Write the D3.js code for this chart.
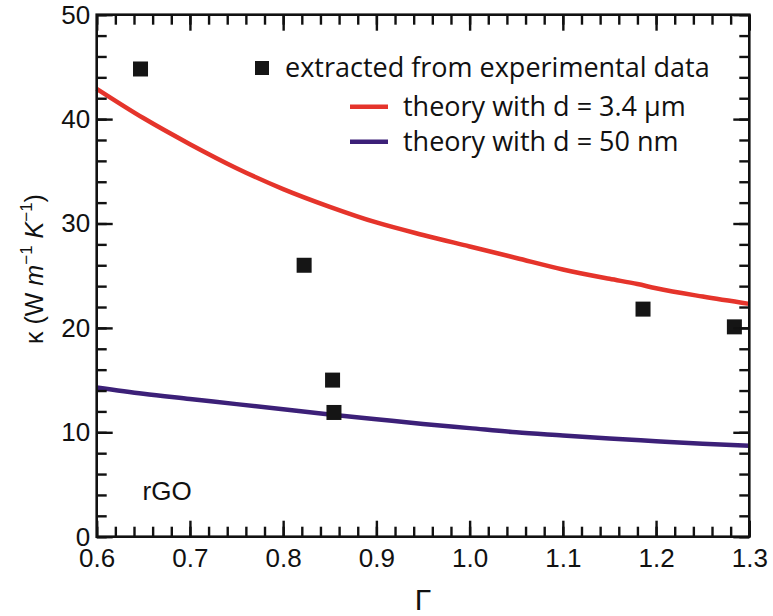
<!DOCTYPE html>
<html>
<head>
<meta charset="utf-8">
<script src="https://cdn.jsdelivr.net/npm/d3@7"></script>
<style>
  html, body { margin: 0; padding: 0; background: #fff; }
  svg { display: block; }
</style>
</head>
<body>
<svg id="chart" width="773" height="616"></svg>
<script>
// ---------- data ----------
const expGamma = [0.647, 0.8225, 0.853, 0.8545, 1.186, 1.284];
const expKappa = [44.8, 26.0, 15.0, 11.9, 21.8, 20.1];

const thickGamma = [0.6, 0.65, 0.70, 0.75, 0.80, 0.85, 0.90, 0.95, 1.0, 1.05, 1.10, 1.15, 1.18, 1.20, 1.25, 1.3];
const thickKappa = [42.9, 40.1, 37.6, 35.3, 33.3, 31.6, 30.1, 28.9, 27.8, 26.7, 25.6, 24.7, 24.2, 23.8, 23.0, 22.3];

const thinGamma = [0.6, 0.65, 0.70, 0.75, 0.80, 0.85, 0.90, 0.95, 1.0, 1.05, 1.10, 1.15, 1.20, 1.25, 1.3];
const thinKappa = [14.3, 13.7, 13.2, 12.7, 12.2, 11.7, 11.25, 10.8, 10.4, 10.0, 9.7, 9.4, 9.15, 8.9, 8.7];

const xTickValues = [0.6, 0.7, 0.8, 0.9, 1.0, 1.1, 1.2, 1.3];
const xTickLabels = ["0.6", "0.7", "0.8", "0.9", "1.0", "1.1", "1.2", "1.3"];
const yTickValues = [0, 10, 20, 30, 40, 50];
const yTickLabels = ["0", "10", "20", "30", "40", "50"];
const xMinorValues = d3.range(0, 36).map(i => 0.6 + i * 0.02);
const yMinorValues = d3.range(0, 26).map(i => i * 2);

const legendLabels = ["extracted from experimental data", "theory with d = 3.4 \u03bcm", "theory with d = 50 nm"];
const colors = { exp: "#151515", thick: "#e5342b", thin: "#3c2078" };

// ---------- layout ----------
const svg = d3.select("#chart");
const L = 96.7, R = 749.3, T = 14.7, B = 536.7;
const x = d3.scaleLinear().domain([0.6, 1.3]).range([L, R]);
const y = d3.scaleLinear().domain([0, 50]).range([B, T]);

const tickFont = "'Liberation Sans', Arial, sans-serif";
const legendFont = "'Open Sans', 'Noto Sans', sans-serif";

// ---------- curves ----------
const line = d3.line().x(d => x(d[0])).y(d => y(d[1])).curve(d3.curveMonotoneX);
svg.append("path")
  .datum(thickGamma.map((g, i) => [g, thickKappa[i]]))
  .attr("d", line).attr("fill", "none").attr("stroke", colors.thick).attr("stroke-width", 4.5);
svg.append("path")
  .datum(thinGamma.map((g, i) => [g, thinKappa[i]]))
  .attr("d", line).attr("fill", "none").attr("stroke", colors.thin).attr("stroke-width", 4.5);

// ---------- experimental squares ----------
const sq = 15;
svg.selectAll("rect.exp").data(expGamma.map((g, i) => [g, expKappa[i]]))
  .enter().append("rect").attr("class", "exp")
  .attr("x", d => x(d[0]) - sq / 2).attr("y", d => y(d[1]) - sq / 2)
  .attr("width", sq).attr("height", sq).attr("fill", colors.exp);

// ---------- axes ----------
function styleAxis(g) {
  g.select(".domain").remove();
  g.selectAll(".tick line").attr("stroke", "#111").attr("stroke-width", 2.4);
  g.selectAll(".tick text").attr("fill", "#111").style("font-family", tickFont).style("font-size", "26px");
}
const majorLen = 16, minorLen = 10;

// bottom
svg.append("g").attr("transform", `translate(0,${B})`)
  .call(d3.axisBottom(x).tickValues(xMinorValues).tickSize(-minorLen).tickFormat(""))
  .call(styleAxis);
svg.append("g").attr("transform", `translate(0,${B})`)
  .call(d3.axisBottom(x).tickValues(xTickValues).tickSize(-majorLen)
    .tickFormat((d, i) => xTickLabels[i]))
  .call(styleAxis)
  .call(g => g.selectAll(".tick text").attr("y", 12).attr("dy", "0.71em"));
// top
svg.append("g").attr("transform", `translate(0,${T})`)
  .call(d3.axisTop(x).tickValues(xMinorValues).tickSize(-minorLen).tickFormat(""))
  .call(styleAxis);
svg.append("g").attr("transform", `translate(0,${T})`)
  .call(d3.axisTop(x).tickValues(xTickValues).tickSize(-majorLen).tickFormat(""))
  .call(styleAxis);
// left
svg.append("g").attr("transform", `translate(${L},0)`)
  .call(d3.axisLeft(y).tickValues(yMinorValues).tickSize(-minorLen).tickFormat(""))
  .call(styleAxis);
svg.append("g").attr("transform", `translate(${L},0)`)
  .call(d3.axisLeft(y).tickValues(yTickValues).tickSize(-majorLen)
    .tickFormat((d, i) => yTickLabels[i]))
  .call(styleAxis)
  .call(g => g.selectAll(".tick text").attr("x", -6.5));
// right
svg.append("g").attr("transform", `translate(${R},0)`)
  .call(d3.axisRight(y).tickValues(yMinorValues).tickSize(-minorLen).tickFormat(""))
  .call(styleAxis);
svg.append("g").attr("transform", `translate(${R},0)`)
  .call(d3.axisRight(y).tickValues(yTickValues).tickSize(-majorLen).tickFormat(""))
  .call(styleAxis);

// frame
svg.append("rect").attr("x", L).attr("y", T).attr("width", R - L).attr("height", B - T)
  .attr("fill", "none").attr("stroke", "#111").attr("stroke-width", 2.6);

// ---------- axis titles ----------
svg.append("text").attr("x", (L + R) / 2).attr("y", 610).attr("text-anchor", "middle")
  .style("font-family", tickFont).style("font-size", "30px").attr("fill", "#111").text("\u0393");

const yt = svg.append("text")
  .attr("transform", "translate(43,269) rotate(-90)")
  .attr("text-anchor", "middle")
  .style("font-family", tickFont).style("font-size", "25px").attr("fill", "#111");
yt.append("tspan").text("\u03ba (W ");
yt.append("tspan").style("font-style", "italic").text("m");
yt.append("tspan").attr("dy", -11).style("font-size", "17px").text("\u22121");
yt.append("tspan").attr("dy", 11).text(" ");
yt.append("tspan").style("font-style", "italic").text("K");
yt.append("tspan").attr("dy", -11).style("font-size", "17px").text("\u22121");
yt.append("tspan").attr("dy", 11).text(")");

// rGO label
svg.append("text").attr("x", 142.5).attr("y", 500)
  .style("font-family", tickFont).style("font-size", "26px").attr("fill", "#111").text("rGO");

// ---------- legend ----------
const lg = svg.append("g");
lg.append("rect").attr("x", 255).attr("y", 61).attr("width", 14).attr("height", 14).attr("fill", colors.exp);
lg.append("line").attr("x1", 350).attr("x2", 388).attr("y1", 106.7).attr("y2", 106.7)
  .attr("stroke", colors.thick).attr("stroke-width", 4.5);
lg.append("line").attr("x1", 350).attr("x2", 388).attr("y1", 141.7).attr("y2", 141.7)
  .attr("stroke", colors.thin).attr("stroke-width", 4.5);
const legendPos = [[285, 77], [403, 116], [403, 150.5]];
legendLabels.forEach((t, i) => {
  lg.append("text").attr("x", legendPos[i][0]).attr("y", legendPos[i][1])
    .style("font-family", legendFont).style("font-size", "27px").attr("fill", "#111").text(t);
});
</script>
</body>
</html>
